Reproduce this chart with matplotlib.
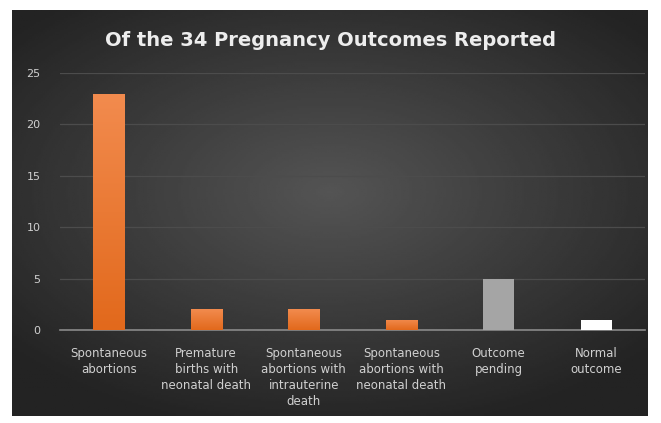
import matplotlib
matplotlib.use("Agg")
import matplotlib.pyplot as plt
import numpy as np

categories = ["Spontaneous\nabortions", "Premature\nbirths with\nneonatal death",
              "Spontaneous\nabortions with\nintrauterine\ndeath",
              "Spontaneous\nabortions with\nneonatal death",
              "Outcome\npending", "Normal\noutcome"]
values = [23, 2, 2, 1, 5, 1]
colors = ["#EE7B30", "#EE7B30", "#EE7B30", "#EE7B30", "#A5A5A5", "#FFFFFF"]
yticks = [0, 5, 10, 15, 20, 25]

fig = plt.figure(figsize=(6.61, 4.23), dpi=100, facecolor="white")

# dark radial background
bg = fig.add_axes([12/661, 1 - 416/423, 636/661, 406/423])
yy, xx = np.mgrid[-1:1:200j, -1:1:300j]
r = np.sqrt((xx * 0.9) ** 2 + ((yy + 0.1) * 1.0) ** 2)
img = np.clip(0.33 - 0.16 * r, 0.14, 0.33)
bg.imshow(img, cmap="gray", vmin=0, vmax=1, aspect="auto", extent=[0, 1, 0, 1])
bg.axis("off")

ax = fig.add_axes([60/661, 1 - 330/423, 585/661, 257/423])
ax.patch.set_alpha(0)
x = np.arange(len(values))
bars = ax.bar(x, values, width=0.32, color=colors, zorder=3)

# vertical gradient on the orange bars
grad = np.linspace(0, 1, 100).reshape(-1, 1)
for b, c in zip(bars, colors):
    if c == "#EE7B30":
        bx, by = b.get_x(), b.get_y()
        im = ax.imshow(grad, cmap=matplotlib.colors.LinearSegmentedColormap.from_list(
            "o", ["#E2691C", "#F28B4E"]), aspect="auto", origin="lower",
            extent=[bx, bx + b.get_width(), by, by + b.get_height()], zorder=4)
        im.set_clip_path(b)

ax.set_xlim(-0.5, len(values) - 0.5)
ax.set_ylim(0, 25)
ax.set_yticks(yticks)
ax.set_xticks(x)
ax.set_xticklabels(categories, fontsize=8.5, color="#D0D0D0", linespacing=1.3)
ax.tick_params(axis="y", labelsize=8, colors="#D0D0D0", length=0, pad=14)
ax.tick_params(axis="x", length=0, pad=12)
ax.grid(axis="y", color="#4C4C4C", linewidth=0.9, zorder=0)
for s in ["top", "right", "left"]:
    ax.spines[s].set_visible(False)
ax.spines["bottom"].set_color("#8A8A8A")
ax.spines["bottom"].set_linewidth(1.2)

fig.text(0.5, 1 - 40/423, "Of the 34 Pregnancy Outcomes Reported", ha="center", va="center",
         fontsize=14, color="#EDEDED", fontweight="semibold")

fig.savefig("out.png", dpi=100, facecolor="white")
